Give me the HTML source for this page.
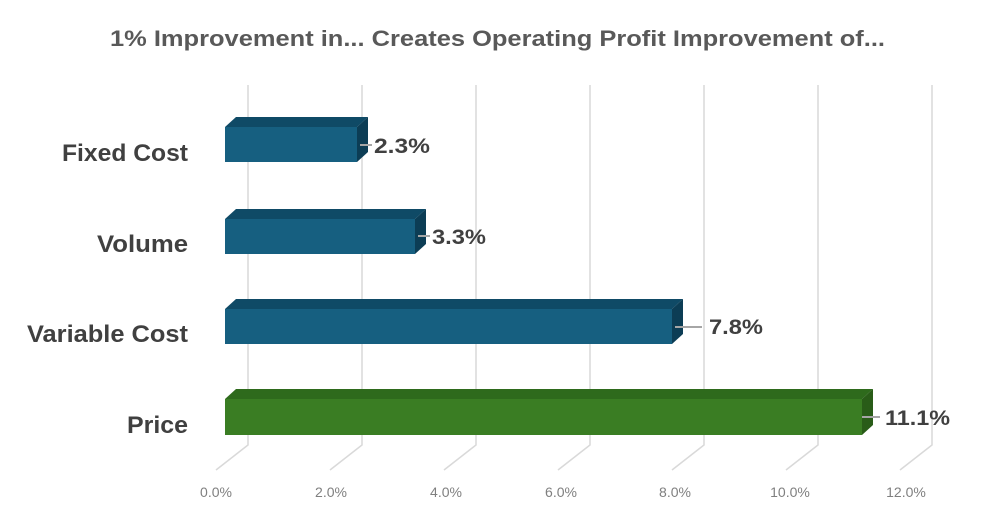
<!DOCTYPE html>
<html><head><style>
body{margin:0;background:#fff;}
svg{display:block;font-family:"Liberation Sans",sans-serif;}
</style></head><body>
<svg width="994" height="518" viewBox="0 0 994 518">
<rect width="994" height="518" fill="#fff"/>
<text x="110" y="46" font-size="22" font-weight="bold" fill="#595959" textLength="775" lengthAdjust="spacingAndGlyphs">1% Improvement in... Creates Operating Profit Improvement of...</text>
<g stroke="#d9d9d9" stroke-width="1.5" fill="none">
<path d="M248 85V445L216 470"/><path d="M362 85V445L330 470"/><path d="M476 85V445L444 470"/>
<path d="M590 85V445L558 470"/><path d="M704 85V445L672 470"/><path d="M818 85V445L786 470"/><path d="M932 85V445L900 470"/>
</g>
<g font-size="14" fill="#7f7f7f" text-anchor="middle">
<text x="216" y="497">0.0%</text><text x="331" y="497">2.0%</text><text x="446" y="497">4.0%</text>
<text x="561" y="497">6.0%</text><text x="675" y="497">8.0%</text><text x="790" y="497">10.0%</text><text x="906" y="497">12.0%</text>
</g>
<g font-size="24" font-weight="bold" fill="#404040">
<text x="62" y="161" textLength="126" lengthAdjust="spacingAndGlyphs">Fixed Cost</text>
<text x="97" y="252" textLength="91" lengthAdjust="spacingAndGlyphs">Volume</text>
<text x="27" y="342" textLength="161" lengthAdjust="spacingAndGlyphs">Variable Cost</text>
<text x="127" y="433" textLength="61" lengthAdjust="spacingAndGlyphs">Price</text>
</g>
<g>
<polygon points="225,127 236,117 368,117 357,127" fill="#0f4a66"/>
<rect x="225" y="127" width="132" height="35" fill="#165f80"/>
<polygon points="357,127 368,117 368,152 357,162" fill="#0c3d55"/>
<polygon points="225,219 236,209 426,209 415,219" fill="#0f4a66"/>
<rect x="225" y="219" width="190" height="35" fill="#165f80"/>
<polygon points="415,219 426,209 426,244 415,254" fill="#0c3d55"/>
<polygon points="225,309 236,299 683,299 672,309" fill="#0f4a66"/>
<rect x="225" y="309" width="447" height="35" fill="#165f80"/>
<polygon points="672,309 683,299 683,334 672,344" fill="#0c3d55"/>
<polygon points="225,399 236,389 873,389 862,399" fill="#2e6a1c"/>
<rect x="225" y="399" width="637" height="36" fill="#3a7d23"/>
<polygon points="862,399 873,389 873,425 862,435" fill="#295c18"/>
</g>
<g stroke="#a6a6a6" stroke-width="2">
<path d="M360 145H372"/><path d="M418 236H430"/><path d="M675 327H702"/><path d="M862 417H880"/>
</g>
<g font-size="21" font-weight="bold" fill="#404040">
<text x="374" y="153" textLength="56" lengthAdjust="spacingAndGlyphs">2.3%</text>
<text x="432" y="244" textLength="54" lengthAdjust="spacingAndGlyphs">3.3%</text>
<text x="709" y="334" textLength="54" lengthAdjust="spacingAndGlyphs">7.8%</text>
<text x="885" y="425" textLength="65" lengthAdjust="spacingAndGlyphs">11.1%</text>
</g>
</svg>
</body></html>
